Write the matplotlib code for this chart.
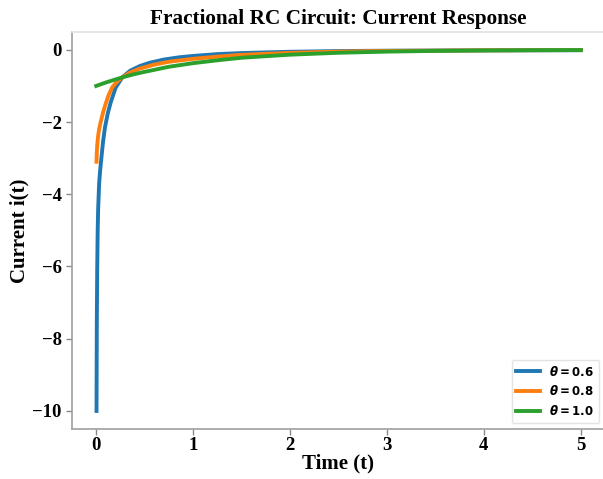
import matplotlib
matplotlib.use("Agg")
import matplotlib.pyplot as plt

# -----------------------------
# DATA
# -----------------------------
t_06 = [0.003, 0.006, 0.01, 0.015, 0.02, 0.03, 0.04, 0.053, 0.07, 0.09,
        0.12, 0.15, 0.2, 0.27, 0.35, 0.45, 0.55, 0.7, 0.85, 1.0,
        1.25, 1.5, 2.0, 2.5, 3.0, 4.0, 5.0]
i_06 = [-10.0, -7.6, -6.1, -5.0, -4.4, -3.7, -3.35, -3.0, -2.55, -2.15,
        -1.75, -1.45, -1.05, -0.76, -0.58, -0.45, -0.36, -0.27, -0.21, -0.17,
        -0.12, -0.09, -0.055, -0.035, -0.025, -0.016, -0.012]

t_08 = [0.003, 0.006, 0.01, 0.02, 0.03, 0.046, 0.07, 0.098, 0.13, 0.167,
        0.22, 0.27, 0.35, 0.45, 0.6, 0.75, 1.0, 1.25, 1.5, 2.0,
        2.5, 3.0, 4.0, 5.0]
i_08 = [-3.1, -2.85, -2.65, -2.38, -2.2, -2.0, -1.74, -1.49, -1.24, -1.03,
        -0.87, -0.76, -0.63, -0.52, -0.41, -0.33, -0.25, -0.19, -0.14, -0.085,
        -0.05, -0.032, -0.015, -0.008]

t_10 = [0.0, 0.1, 0.2, 0.3, 0.4, 0.5, 0.75, 1.0, 1.25, 1.5,
        2.0, 2.5, 3.0, 3.5, 4.0, 4.5, 5.0]
i_10 = [-1.0, -0.905, -0.82, -0.74, -0.67, -0.61, -0.47, -0.37, -0.29, -0.22,
        -0.135, -0.082, -0.05, -0.03, -0.018, -0.011, -0.007]

labels = [r"$\theta = 0.6$", r"$\theta = 0.8$", r"$\theta = 1.0$"]
colors = ["#1f77b4", "#ff7f0e", "#2ca02c"]

x_ticks = [0, 1, 2, 3, 4, 5]
y_ticks = [-10, -8, -6, -4, -2, 0]


# -----------------------------
# STYLE
# -----------------------------
plt.rcParams["font.family"] = ["Liberation Serif", "DejaVu Serif"]
plt.rcParams["font.weight"] = "bold"
plt.rcParams["mathtext.fontset"] = "custom"
plt.rcParams["mathtext.it"] = "DejaVu Sans:italic:bold"
plt.rcParams["mathtext.rm"] = "DejaVu Sans:bold"
plt.rcParams["mathtext.bf"] = "DejaVu Sans:bold"


def main():

    fig = plt.figure(figsize=(6.03, 4.79), dpi=100)
    ax = fig.add_axes([72 / 603, 50 / 479, 533 / 603, 397 / 479])

    series = [(t_06, i_06), (t_08, i_08), (t_10, i_10)]
    for (t, i), lab, col in zip(series, labels, colors):
        ax.plot(t, i, color=col, linewidth=2.8, label=lab)

    ax.set_xticks(x_ticks)
    ax.set_yticks(y_ticks)
    ax.tick_params(axis="both", labelsize=13.5, colors="#888888",
                   length=4, width=1)
    ax.tick_params(axis="x", pad=1.5)
    for lab in ax.get_xticklabels() + ax.get_yticklabels():
        lab.set_color("black")
        lab.set_fontweight("bold")

    for side in ["left", "bottom"]:
        ax.spines[side].set_color("#a0a0a0")
        ax.spines[side].set_linewidth(1.2)
    ax.spines["top"].set_color("#e2e2e2")
    ax.spines["top"].set_linewidth(1.2)
    ax.spines["right"].set_visible(False)

    ax.set_title("Fractional RC Circuit: Current Response",
                 fontsize=15.3, fontweight="bold", pad=6)
    ax.set_xlabel("Time (t)", fontsize=15, fontweight="bold", labelpad=0)
    ax.set_ylabel("Current i(t)", fontsize=15, fontweight="bold", labelpad=2)

    leg = ax.legend(loc="lower right", fontsize=8.5, frameon=True,
                    handlelength=2.0)
    leg.get_frame().set_edgecolor("#dddddd")

    fig.savefig("out.png", dpi=100)
    plt.close(fig)


if __name__ == "__main__":
    main()
